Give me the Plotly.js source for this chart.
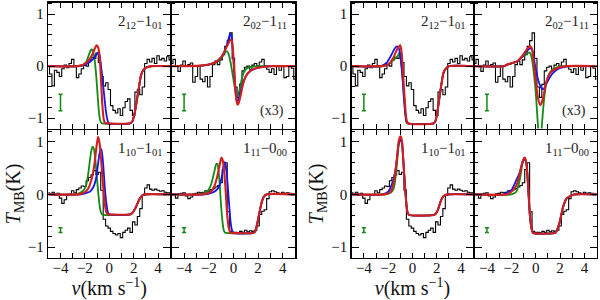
<!DOCTYPE html>
<html><head><meta charset="utf-8">
<script src="https://cdn.plot.ly/plotly-3.0.1.min.js"></script>
<style>html,body{margin:0;padding:0;background:#fff}#chart{width:600px;height:300px}</style>
</head><body><div id="chart"></div>
<script>
// ---------- observed spectra (shared by both groups) ----------
const vObs = [-5.0,-4.8,-4.6,-4.4,-4.2,-4.0,-3.8,-3.6,-3.4,-3.2,-3.0,-2.8,-2.6,-2.4,-2.2,-2.0,-1.8,-1.6,-1.4,-1.2,-1.0,-0.8,-0.6,-0.4,-0.2,0.0,0.2,0.4,0.6,0.8,1.0,1.2,1.4,1.6,1.8,2.0,2.2,2.4,2.6,2.8,3.0,3.2,3.4,3.6,3.8,4.0,4.2,4.4,4.6,4.8,5.0];
const obs212 = [0.0,-0.15,-0.38,-0.08,-0.12,-0.2,-0.05,0.02,-0.03,0.05,0.13,0.0,-0.22,-0.15,-0.05,0.02,0.0,0.12,0.17,0.15,0.25,0.07,-0.2,-0.38,-0.32,-0.45,-0.76,-0.85,-0.9,-0.82,-0.95,-0.8,-0.68,-0.63,-0.85,-0.95,-0.5,-0.45,-0.55,-0.4,0.05,0.13,0.08,0.15,0.05,0.2,0.12,0.15,0.1,0.18,0.12];
const obs202 = [0.05,0.13,0.0,-0.1,0.02,0.1,0.0,0.03,0.06,-0.31,-0.2,0.0,-0.25,-0.3,-0.2,-0.4,-0.2,0.03,0.1,0.03,0.12,0.22,0.38,0.49,0.64,0.15,-0.4,-0.6,-0.35,-0.09,-0.02,0.0,-0.06,0.02,0.05,0.0,0.08,0.13,0.0,-0.06,-0.12,-0.05,-0.16,0.0,-0.08,0.0,-0.22,-0.2,0.0,-0.04,-0.25];
const obs110 = [0.03,0.0,0.04,-0.02,0.02,-0.07,-0.17,-0.1,-0.02,0.0,0.07,0.03,0.09,0.12,0.16,0.15,0.26,0.32,0.37,0.45,0.38,0.42,0.08,-0.47,-0.6,-0.64,-0.7,-0.74,-0.77,-0.74,-0.82,-0.72,-0.68,-0.64,-0.72,-0.52,-0.58,-0.42,-0.27,-0.02,0.12,0.18,0.1,0.08,0.1,0.08,0.06,0.07,0.04,0.03,0.03];
const obs111 = [0.0,-0.01,-0.07,0.01,0.02,0.03,-0.03,-0.08,-0.05,0.01,0.02,0.04,0.03,0.04,0.07,0.06,0.09,0.11,0.14,0.17,0.22,0.47,0.6,-0.33,-0.7,-0.72,-0.72,-0.73,-0.7,-0.72,-0.68,-0.71,-0.69,-0.7,-0.68,-0.6,-0.38,-0.32,-0.29,-0.08,0.05,0.07,0.05,0.03,0.01,0.04,0.02,0.03,0.02,-0.01,0.0];

// ---------- models, left group ----------
const riseA_v = [1.7,1.9,2.1,2.3,2.45,2.6,2.8,3.1,3.5,5];
const riseA_t = [-1.1,-1.06,-0.88,-0.6,-0.38,-0.18,-0.07,-0.02,0,0];
const A_g_v = [-5,-2.6,-2.2,-1.9,-1.7,-1.55,-1.45,-1.35,-1.25,-1.15,-1.05,-0.95,-0.85,-0.75,-0.65,-0.55];
const A_g_t = [0,0,0.02,0.08,0.2,0.29,0.32,0.3,0.2,0.02,-0.25,-0.58,-0.88,-1.04,-1.09,-1.1];
const A_b_v = [-5,-2.5,-2.1,-1.8,-1.5,-1.2,-1.0,-0.9,-0.8,-0.7,-0.6,-0.5,-0.4,-0.3,-0.2,-0.1,0.0];
const A_b_t = [0,0,0.02,0.05,0.1,0.17,0.24,0.27,0.22,0.05,-0.15,-0.38,-0.6,-0.82,-0.98,-1.07,-1.1];
const A_r_v = [-5,-2.6,-2.2,-1.9,-1.6,-1.4,-1.2,-1.05,-0.95,-0.85,-0.75,-0.65,-0.55,-0.45,-0.35,-0.25];
const A_r_t = [0,0,0.02,0.06,0.14,0.22,0.33,0.4,0.38,0.3,0.05,-0.4,-0.8,-1.03,-1.09,-1.1];

const B_g_v = [-5,-2.6,-2.0,-1.5,-1.2,-0.9,-0.7,-0.55,-0.4,-0.25,-0.1,0.05,0.2,0.3,0.4,0.5,0.65,0.85,1.1,1.5,2.2,5];
const B_g_t = [0,0.01,0.03,0.06,0.1,0.18,0.26,0.29,0.24,0.1,-0.1,-0.32,-0.5,-0.57,-0.55,-0.45,-0.28,-0.12,-0.04,-0.01,0,0];
const B_b_v = [-5,-2.6,-2.0,-1.5,-1.3,-0.9,-0.65,-0.45,-0.3,-0.2,-0.1,0.0,0.1,0.2,0.3,0.4,0.55,0.75,1.0,1.4,1.9,2.5,3.2,5];
const B_b_t = [0,0.01,0.03,0.07,0.1,0.2,0.33,0.47,0.6,0.62,0.48,0.15,-0.25,-0.55,-0.67,-0.65,-0.52,-0.35,-0.2,-0.09,-0.04,-0.01,0,0];
const B_r_v = [-5,-2.6,-2.0,-1.5,-1.3,-0.9,-0.65,-0.4,-0.25,-0.15,-0.05,0.05,0.15,0.25,0.35,0.45,0.6,0.8,1.1,1.5,2.0,2.6,3.2,5];
const B_r_t = [0,0.01,0.03,0.07,0.1,0.2,0.32,0.44,0.5,0.5,0.35,0.0,-0.4,-0.66,-0.74,-0.7,-0.55,-0.33,-0.16,-0.07,-0.03,-0.01,0,0];

const riseC_v = [1.7,1.9,2.1,2.3,2.5,2.7,2.9,5];
const riseC_t = [-0.38,-0.35,-0.28,-0.18,-0.08,-0.02,0,0];
const C_g_v = [-5,-2.8,-2.4,-2.1,-1.9,-1.75,-1.6,-1.48,-1.38,-1.3,-1.2,-1.1,-1.0,-0.9,-0.8,-0.7,-0.6];
const C_g_t = [0,0,0.03,0.08,0.17,0.35,0.62,0.82,0.9,0.89,0.78,0.55,0.28,0.02,-0.2,-0.33,-0.38];
const C_b_v = [-5,-2.3,-2.0,-1.6,-1.35,-1.2,-1.05,-0.92,-0.78,-0.64,-0.5,-0.37,-0.23,-0.1,0.04];
const C_b_t = [0,0,0.02,0.05,0.12,0.2,0.34,0.58,0.8,0.86,0.57,0.14,-0.18,-0.35,-0.38];
const C_r_v = [-5,-2.6,-2.2,-1.9,-1.7,-1.5,-1.33,-1.2,-1.05,-0.92,-0.8,-0.65,-0.5,-0.37,-0.25,-0.12,0.0];
const C_r_t = [0,0,0.02,0.06,0.12,0.25,0.41,0.6,0.9,1.09,0.98,0.6,0.15,-0.17,-0.33,-0.38,-0.38];

const riseD_v = [1.6,1.77,1.91,2.04,2.18,2.31,2.45,2.7,5];
const riseD_t = [-0.73,-0.7,-0.58,-0.43,-0.27,-0.14,-0.05,0,0];
const D_g_v = [-5,-2.8,-2.4,-2.1,-1.85,-1.7,-1.53,-1.4,-1.3,-1.2,-1.1,-1.0,-0.9,-0.8,-0.7,-0.6];
const D_g_t = [0,0,0.02,0.06,0.16,0.28,0.45,0.57,0.58,0.45,0.15,-0.2,-0.48,-0.66,-0.72,-0.73];
const D_b_v = [-5,-2.3,-1.9,-1.55,-1.3,-1.18,-1.05,-0.91,-0.8,-0.7,-0.6,-0.51,-0.37,-0.24,-0.11,0.03];
const D_b_t = [0,0,0.02,0.05,0.1,0.14,0.22,0.37,0.54,0.61,0.52,0.33,-0.11,-0.49,-0.68,-0.73];
const D_r_v = [-5,-2.5,-2.1,-1.8,-1.55,-1.35,-1.18,-1.05,-0.97,-0.88,-0.78,-0.64,-0.51,-0.37,-0.24,-0.12];
const D_r_t = [0,0,0.02,0.05,0.15,0.3,0.48,0.63,0.7,0.66,0.52,0.12,-0.36,-0.64,-0.72,-0.73];

// ---------- models, right group ----------
const riseE_v = [1.75,1.9,2.08,2.22,2.36,2.55,2.77,3.0,5];
const riseE_t = [-1.1,-1.05,-0.83,-0.6,-0.38,-0.13,-0.04,0,0];
const E_g_v = [-5,-2.4,-1.86,-1.46,-1.2,-1.06,-0.91,-0.78,-0.64,-0.5,-0.4];
const E_g_t = [0,0,0.06,0.14,0.2,0.26,0.06,-0.32,-0.76,-1.08,-1.1];
const E_b_v = [-5,-2.6,-2.14,-1.73,-1.46,-1.27,-1.1,-0.91,-0.78,-0.72,-0.6,-0.5,-0.42];
const E_b_t = [0,0,0.06,0.22,0.34,0.38,0.33,0.0,-0.35,-0.57,-0.9,-1.05,-1.1];
const E_r_v = [-5,-2.5,-2.0,-1.6,-1.27,-1.1,-1.0,-0.89,-0.78,-0.64,-0.5,-0.37];
const E_r_t = [0,0,0.03,0.15,0.32,0.38,0.4,0.25,-0.13,-0.64,-1.02,-1.1];

const F_g_v = [-5,-2.6,-2.34,-1.53,-1.12,-0.85,-0.6,-0.5,-0.4,-0.3,-0.12,0.0,0.1,0.2,0.28,0.36,0.44,0.55,0.7,0.85,1.0,1.3,1.8,2.5,5];
const F_g_t = [0,0,0.03,0.09,0.17,0.22,0.26,0.26,0.22,0.12,-0.2,-0.5,-0.85,-1.2,-1.45,-1.5,-1.35,-1.0,-0.6,-0.35,-0.2,-0.08,-0.02,0,0];
const F_b_v = [-5,-2.6,-2.34,-1.53,-1.12,-0.77,-0.55,-0.39,-0.25,-0.04,0.23,0.5,0.64,0.91,1.31,1.72,2.26,3,5];
const F_b_t = [0,0,0.03,0.09,0.18,0.28,0.33,0.34,0.28,0.0,-0.29,-0.43,-0.44,-0.32,-0.16,-0.07,-0.02,0,0];
const F_r_v = [-5,-2.6,-2.34,-1.53,-1.12,-0.77,-0.6,-0.45,-0.3,-0.23,-0.04,0.15,0.37,0.58,0.85,1.18,1.72,2.5,5];
const F_r_t = [0,0,0.03,0.09,0.19,0.31,0.36,0.38,0.33,0.22,-0.19,-0.57,-0.75,-0.64,-0.32,-0.13,-0.04,0,0];

const riseG_v = [1.75,1.9,2.08,2.22,2.36,2.5,2.63,2.9,5];
const riseG_t = [-0.39,-0.37,-0.3,-0.2,-0.11,-0.05,-0.02,0,0];
const G_g_v = [-5,-2.2,-1.8,-1.6,-1.46,-1.27,-1.14,-1.0,-0.9,-0.84,-0.7,-0.55,-0.42,-0.28];
const G_g_t = [0,0,0.03,0.08,0.2,0.6,0.92,1.04,1.02,0.94,0.44,-0.05,-0.33,-0.39];
const G_b_v = [-5,-2.5,-2.0,-1.73,-1.46,-1.27,-1.14,-1.02,-0.9,-0.84,-0.7,-0.55,-0.42,-0.28];
const G_b_t = [0,0,0.05,0.17,0.39,0.7,0.95,1.04,1.0,0.93,0.44,-0.05,-0.33,-0.39];
const G_r_v = [-5,-2.4,-2.0,-1.73,-1.46,-1.27,-1.14,-1.0,-0.92,-0.84,-0.7,-0.55,-0.42,-0.28];
const G_r_t = [0,0,0.02,0.08,0.33,0.7,1.0,1.1,1.08,0.95,0.45,-0.05,-0.33,-0.39];

const riseH_v = [1.6,1.7,1.97,2.24,2.52,2.92,3.2,5];
const riseH_t = [-0.73,-0.7,-0.52,-0.24,-0.08,-0.02,0,0];
const H_g_v = [-5,-2.0,-1.59,-1.31,-1.09,-0.9,-0.76,-0.62,-0.49,-0.35,-0.22];
const H_g_t = [0,0,0.05,0.27,0.58,0.69,0.58,0.14,-0.36,-0.64,-0.73];
const H_b_v = [-5,-2.6,-2.27,-2.0,-1.59,-1.31,-1.09,-0.93,-0.76,-0.62,-0.49,-0.35,-0.22];
const H_b_t = [0,0,0.05,0.08,0.27,0.42,0.61,0.69,0.58,0.14,-0.36,-0.64,-0.73];
const H_r_v = [-5,-2.4,-2.0,-1.59,-1.31,-1.09,-0.9,-0.76,-0.62,-0.49,-0.35,-0.22];
const H_r_t = [0,0,0.05,0.17,0.39,0.61,0.7,0.58,0.14,-0.36,-0.64,-0.73];

// ---------- labels & error bars ----------
const labels = ['2<sub>12</sub>\u22121<sub>01</sub>','2<sub>02</sub>\u22121<sub>11</sub>','1<sub>10</sub>\u22121<sub>01</sub>','1<sub>11</sub>\u22120<sub>00</sub>'];
const scaleNote = '(x3)';
const errV = -4.0;
const errTop = [-0.7, 0.16];
const errBot = [-0.675, 0.045];

// ---------- build ----------
const FONT = 'Liberation Serif, DejaVu Serif, serif';
const GREEN = '#128a12', BLUE = '#1414f0', RED = '#d41e1e';
const LW = 1.5;
const cat = (a,b) => b ? a.concat(b) : a;

const panels = [
  {obs:obs212, g:[A_g_v,A_g_t], b:[A_b_v,A_b_t], r:[A_r_v,A_r_t], rise:[riseA_v,riseA_t], lab:0, top:true},
  {obs:obs202, g:[B_g_v,B_g_t], b:[B_b_v,B_b_t], r:[B_r_v,B_r_t], rise:null, lab:1, top:true, x3:true},
  {obs:obs110, g:[C_g_v,C_g_t], b:[C_b_v,C_b_t], r:[C_r_v,C_r_t], rise:[riseC_v,riseC_t], lab:2, top:false},
  {obs:obs111, g:[D_g_v,D_g_t], b:[D_b_v,D_b_t], r:[D_r_v,D_r_t], rise:[riseD_v,riseD_t], lab:3, top:false},
  {obs:obs212, g:[E_g_v,E_g_t], b:[E_b_v,E_b_t], r:[E_r_v,E_r_t], rise:[riseE_v,riseE_t], lab:0, top:true},
  {obs:obs202, g:[F_g_v,F_g_t], b:[F_b_v,F_b_t], r:[F_r_v,F_r_t], rise:null, lab:1, top:true, x3:true},
  {obs:obs110, g:[G_g_v,G_g_t], b:[G_b_v,G_b_t], r:[G_r_v,G_r_t], rise:[riseG_v,riseG_t], lab:2, top:false},
  {obs:obs111, g:[H_g_v,H_g_t], b:[H_b_v,H_b_t], r:[H_r_v,H_r_t], rise:[riseH_v,riseH_t], lab:3, top:false}
];
const px = v => v/600, py = v => 1 - v/300;
const colL1 = [px(48.3), px(171-LW/2)], colL2 = [px(171+LW/2), px(295)];
const colR1 = [px(351.7), px(474-LW/2)], colR2 = [px(474+LW/2), px(596.7)];
const xDom = [colL1, colL2, colL1, colL2, colR1, colR2, colR1, colR2];
const yTop = [py(129.3-LW/2), py(2.7)], yBot = [py(257.7), py(129.3+LW/2)];

const traces = [], annotations = [];
const layout = {
  width:600, height:300, margin:{l:0,r:0,t:0,b:0},
  paper_bgcolor:'#fff', plot_bgcolor:'#fff', showlegend:false,
  font:{family:FONT, size:15, color:'#111'}
};

panels.forEach((p,i)=>{
  const n = i+1;
  const xa = 'x'+(n===1?'':n), ya = 'y'+(n===1?'':n);
  const leftCol = (i%2===0);
  const model = (arr, color, w) => {
    const rv = p.rise ? p.rise[0] : null, rt = p.rise ? p.rise[1] : null;
    traces.push({x:cat(arr[0],rv), y:cat(arr[1],rt), xaxis:xa, yaxis:ya, mode:'lines',
      line:{color:color, width:w, shape:'spline', smoothing:0.6}, hoverinfo:'skip'});
  };
  traces.push({x:vObs, y:p.obs, xaxis:xa, yaxis:ya, mode:'lines', line:{color:'#000', width:1.1, shape:'hvh'}, hoverinfo:'skip'});
  model(p.g, GREEN, 1.8);
  model(p.b, BLUE, 1.8);
  model(p.r, RED, 2.1);
  const e = p.top ? errTop : errBot;
  traces.push({x:[errV], y:[e[0]], xaxis:xa, yaxis:ya, mode:'markers', marker:{size:1, color:'rgba(0,0,0,0)'},
    error_y:{type:'data', array:[e[1]], color:GREEN, thickness:1.5, width:2}, hoverinfo:'skip'});

  const xkey = 'xaxis'+(n===1?'':n), ykey = 'yaxis'+(n===1?'':n);
  layout[xkey] = {
    domain:xDom[i], anchor:ya, range:[-5,5], fixedrange:true,
    tickmode:'linear', tick0:0, dtick:2, ticks:'inside', ticklen:5, tickwidth:1, tickcolor:'#000',
    minor:{dtick:1, tick0:0, ticks:'inside', ticklen:5, tickwidth:1, tickcolor:'#000'},
    showline:true, linewidth:LW, linecolor:'#000', mirror:'allticks',
    showgrid:false, zeroline:false, showticklabels:!p.top, ticklabelstandoff:-4,
    tickfont:{family:FONT, size:15, color:'#111'}
  };
  layout[ykey] = {
    domain:p.top?yTop:yBot, anchor:xa, range:[-1.2,1.22], fixedrange:true,
    tickmode:'linear', tick0:0, dtick:1, ticks:'inside', ticklen:7, tickwidth:1, tickcolor:'#000',
    minor:{dtick:0.2, tick0:0, ticks:'inside', ticklen:3.5, tickwidth:1, tickcolor:'#000'},
    showline:true, linewidth:LW, linecolor:'#000', mirror:'allticks',
    showgrid:false, zeroline:false, showticklabels:leftCol,
    tickfont:{family:FONT, size:15, color:'#111'}
  };
  if (!p.top && leftCol) {
    layout[xkey].title = {text:'<i>v</i>(km s<sup>\u22121</sup>)', font:{family:FONT, size:20, color:'#111'}, standoff:7};
    layout[ykey].title = {text:'<i>T</i><sub>MB</sub>(K)', font:{family:FONT, size:20, color:'#111'}, standoff:2};
  }
  annotations.push({xref:xa, yref:ya, x:4.5, y:p.top?0.84:0.86, xanchor:'right', yanchor:'middle',
    text:labels[p.lab], showarrow:false, font:{family:FONT, size:15, color:'#222'}});
  if (p.x3) annotations.push({xref:xa, yref:ya, x:3.1, y:-0.87, xanchor:'center', yanchor:'middle',
    text:scaleNote, showarrow:false, font:{family:FONT, size:14, color:'#222'}});
});
layout.annotations = annotations;

Plotly.newPlot('chart', traces, layout, {staticPlot:true, displayModeBar:false});
</script>
</body></html>
